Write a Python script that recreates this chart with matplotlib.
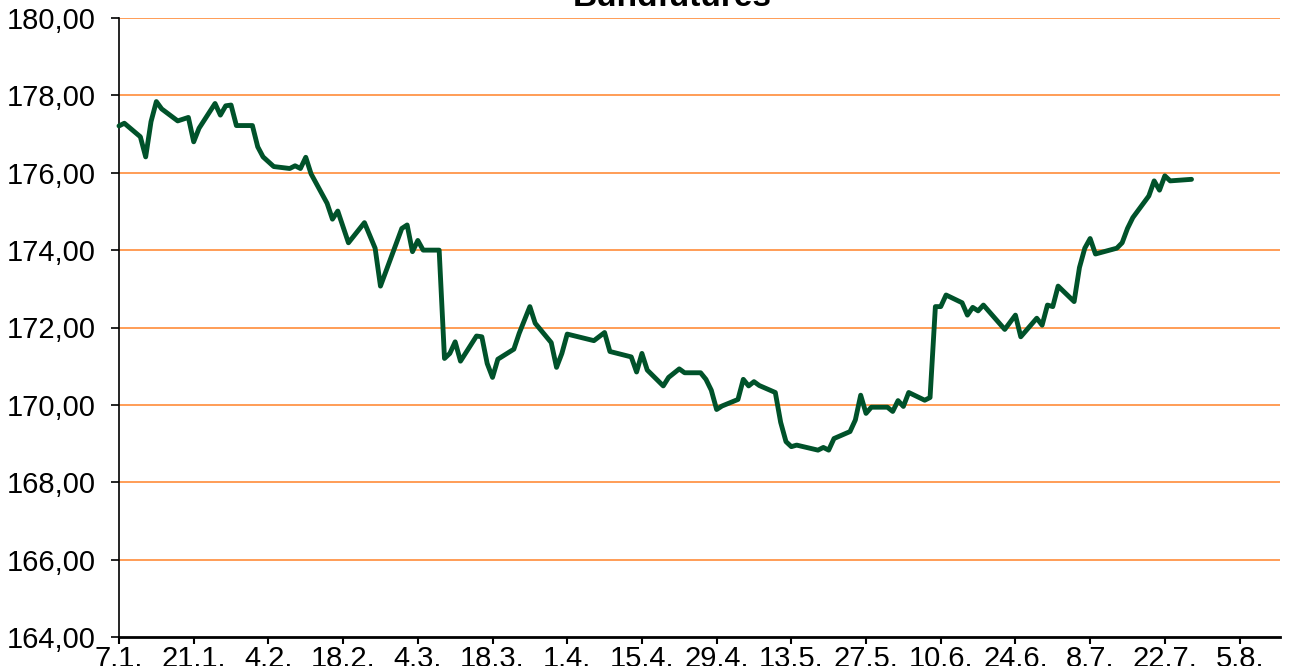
import datetime as dt
import matplotlib
matplotlib.use("Agg")
import matplotlib.pyplot as plt
from matplotlib.ticker import FuncFormatter

plt.rcParams['font.family'] = ['Liberation Sans', 'DejaVu Sans']

# ---- data ----
dates = [
    "2021-01-07", "2021-01-08", "2021-01-11", "2021-01-12", "2021-01-13", "2021-01-14",
    "2021-01-15", "2021-01-18", "2021-01-20", "2021-01-21", "2021-01-22", "2021-01-25",
    "2021-01-26", "2021-01-27", "2021-01-28", "2021-01-29", "2021-02-01", "2021-02-02",
    "2021-02-03", "2021-02-05", "2021-02-08", "2021-02-09", "2021-02-10", "2021-02-11",
    "2021-02-12", "2021-02-15", "2021-02-16", "2021-02-17", "2021-02-19", "2021-02-22",
    "2021-02-24", "2021-02-25", "2021-03-01", "2021-03-02", "2021-03-03", "2021-03-04",
    "2021-03-05", "2021-03-08", "2021-03-09", "2021-03-10", "2021-03-11", "2021-03-12",
    "2021-03-15", "2021-03-16", "2021-03-17", "2021-03-18", "2021-03-19", "2021-03-22",
    "2021-03-23", "2021-03-25", "2021-03-26", "2021-03-29", "2021-03-30", "2021-03-31",
    "2021-04-01", "2021-04-06", "2021-04-08", "2021-04-09", "2021-04-13", "2021-04-14",
    "2021-04-15", "2021-04-16", "2021-04-19", "2021-04-20", "2021-04-22", "2021-04-23",
    "2021-04-26", "2021-04-27", "2021-04-28", "2021-04-29", "2021-04-30", "2021-05-03",
    "2021-05-04", "2021-05-05", "2021-05-06", "2021-05-07", "2021-05-10", "2021-05-11",
    "2021-05-12", "2021-05-13", "2021-05-14", "2021-05-18", "2021-05-19", "2021-05-20",
    "2021-05-21", "2021-05-24", "2021-05-25", "2021-05-26", "2021-05-27", "2021-05-28",
    "2021-05-31", "2021-06-01", "2021-06-02", "2021-06-03", "2021-06-04", "2021-06-07",
    "2021-06-08", "2021-06-09", "2021-06-10", "2021-06-11", "2021-06-14", "2021-06-15",
    "2021-06-16", "2021-06-17", "2021-06-18", "2021-06-22", "2021-06-24", "2021-06-25",
    "2021-06-28", "2021-06-29", "2021-06-30", "2021-07-01", "2021-07-02", "2021-07-05",
    "2021-07-06", "2021-07-07", "2021-07-08", "2021-07-09", "2021-07-13", "2021-07-14",
    "2021-07-15", "2021-07-16", "2021-07-19", "2021-07-20", "2021-07-21", "2021-07-22",
    "2021-07-23", "2021-07-27",
]
prices = [
    177.21, 177.28, 176.93, 176.41, 177.32, 177.84,
    177.65, 177.34, 177.43, 176.80, 177.15, 177.79,
    177.49, 177.73, 177.75, 177.22, 177.22, 176.67,
    176.41, 176.16, 176.11, 176.18, 176.11, 176.40,
    175.97, 175.21, 174.80, 175.01, 174.19, 174.71,
    174.05, 173.07, 174.56, 174.65, 173.96, 174.25,
    174.00, 174.00, 171.20, 171.33, 171.63, 171.13,
    171.78, 171.76, 171.07, 170.71, 171.18, 171.44,
    171.85, 172.54, 172.11, 171.61, 170.97, 171.33,
    171.83, 171.66, 171.87, 171.38, 171.24, 170.85,
    171.33, 170.90, 170.49, 170.71, 170.93, 170.83,
    170.83, 170.66, 170.38, 169.88, 169.97, 170.14,
    170.66, 170.49, 170.60, 170.50, 170.32, 169.55,
    169.05, 168.92, 168.96, 168.83, 168.90, 168.83,
    169.13, 169.31, 169.61, 170.25, 169.78, 169.94,
    169.94, 169.83, 170.11, 169.96, 170.32, 170.12,
    170.19, 172.54, 172.54, 172.84, 172.64, 172.32,
    172.52, 172.43, 172.58, 171.95, 172.32, 171.76,
    172.24, 172.06, 172.58, 172.54, 173.07, 172.67,
    173.55, 174.05, 174.30, 173.90, 174.05, 174.19,
    174.56, 174.84, 175.40, 175.79, 175.55, 175.92,
    175.79, 175.83,
]
x_start = "2021-01-07"
x_end = "2021-08-12"
y_ticks = [164, 166, 168, 170, 172, 174, 176, 178, 180]
title = "Bundfutures"

# ---- plot ----
xs = [dt.datetime.strptime(d, "%Y-%m-%d") for d in dates]
x0 = dt.datetime.strptime(x_start, "%Y-%m-%d")
x1 = dt.datetime.strptime(x_end, "%Y-%m-%d") + dt.timedelta(hours=14)

fig = plt.figure(figsize=(13.02, 6.66), dpi=100)
fig.patch.set_facecolor('white')
ax = fig.add_axes([119 / 1302, 29 / 666, (1280 - 119) / 1302, (637 - 18) / 666])

# orange horizontal grid lines
for v in y_ticks[1:]:
    ax.axhline(v, color='#FF8C3A', linewidth=1.2, zorder=1)

ax.plot(xs, prices, color='#00522A', linewidth=3.5, solid_joinstyle='round',
        solid_capstyle='round', zorder=5, clip_on=False)

ax.set_xlim(x0, x1)
ax.set_ylim(164, 180)
ax.set_yticks(y_ticks)
ax.yaxis.set_major_formatter(FuncFormatter(lambda v, p: f"{v:.2f}".replace('.', ',')))

xt = [x0 + dt.timedelta(days=14 * i) for i in range(16)]
ax.set_xticks(xt)
ax.set_xticklabels([f"{d.day}.{d.month}." for d in xt])

for s in ('top', 'right'):
    ax.spines[s].set_visible(False)
ax.spines['left'].set_linewidth(1.2)
ax.spines['bottom'].set_linewidth(2.0)
ax.tick_params(axis='y', direction='out', length=6, width=1.2, pad=11,
               labelsize=21, colors='black')
ax.tick_params(axis='x', direction='out', length=5, width=1.5, pad=1,
               labelsize=21, colors='black')

fig.text(0.5165, 0.991, title, ha='center', va='baseline',
         fontsize=24, fontweight='bold')

fig.savefig("out.png", dpi=100)
